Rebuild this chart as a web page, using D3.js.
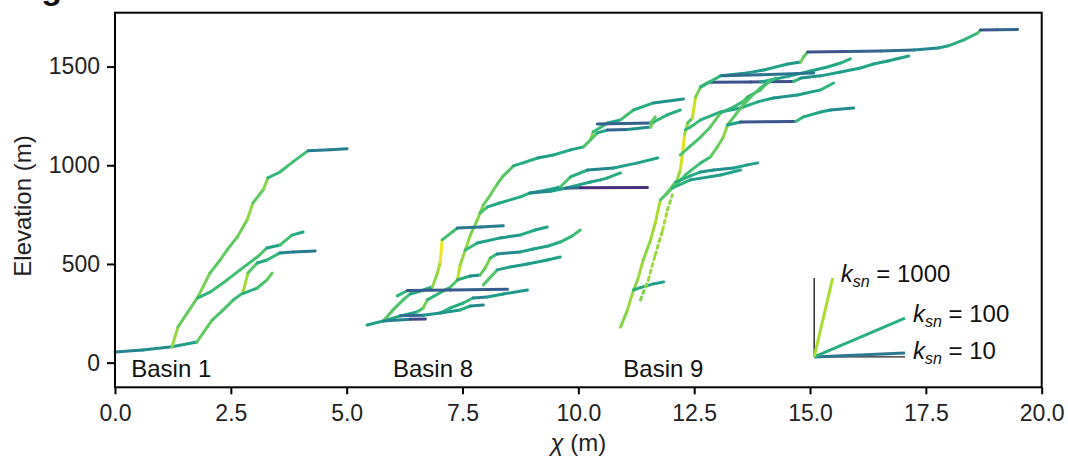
<!DOCTYPE html>
<html><head><meta charset="utf-8">
<script src="https://cdn.jsdelivr.net/npm/d3@7"></script>
<style>body{margin:0;background:#fff} text{font-family:"Liberation Sans",Arial,Helvetica,sans-serif}</style>
</head><body>
<svg id="c" width="1068" height="461"></svg>
<script>
// ---- data (chi in m, elevation in m) ----
const chiTicks = [0, 2.5, 5, 7.5, 10, 12.5, 15, 17.5, 20];
const elevTicks = [0, 500, 1000, 1500];
const basinNames = ["Basin 1", "Basin 8", "Basin 9"];
const legendKsn = [10, 100, 1000];

// Basin 1
const b1_c1 = [[0.00,54],[0.60,64],[1.23,80],[1.77,105],[1.99,180],[2.10,216],[2.33,266],[2.55,317],[2.76,353],[2.87,454],[3.07,505],[3.28,520],[3.56,556],[3.84,561],[4.32,566]];
const b1_c2 = [[1.23,80],[1.36,181],[1.56,252],[1.79,333],[2.05,454],[2.27,520],[2.42,571],[2.64,637],[2.85,723],[2.98,810],[3.20,876],[3.30,936],[3.56,966],[3.84,1017],[4.17,1074],[4.64,1079],[5.01,1084]];
const b1_c3 = [[1.79,328],[2.05,357],[2.42,419],[2.70,470],[3.07,535],[3.28,581],[3.56,596],[3.82,646],[4.06,662]];
const b1_c4 = [[2.76,350],[3.07,378],[3.28,419],[3.39,454]];

// Basin 8
const b8_c1 = [[5.44,191],[5.79,211],[6.16,237],[6.52,257],[6.65,277],[6.74,318],[7.24,383],[7.39,419],[7.45,495],[7.56,571],[7.67,647],[7.82,723],[7.95,799],[8.10,849],[8.25,905],[8.38,946],[8.60,997],[8.81,1012],[9.12,1037],[9.46,1052],[9.83,1078],[10.11,1093],[10.26,1128],[10.32,1169],[10.63,1214],[10.91,1230],[11.19,1280],[11.62,1316],[12.27,1336]];
const b8_c2 = [[10.26,1128],[10.41,1164],[10.63,1179],[11.06,1181],[11.56,1194],[11.62,1219],[11.92,1255],[12.20,1280]];
const b8_c3 = [[10.41,1209],[11.56,1214],[11.66,1245]];
const b8_c4 = [[7.88,758],[8.04,789],[8.32,810],[8.75,840],[8.96,860],[9.33,875],[9.61,890],[9.83,941],[10.20,976],[10.76,986],[11.28,1012],[11.71,1037]];
const b8_c5 = [[8.96,860],[9.40,868],[9.72,884],[10.26,915],[10.48,926],[10.63,936],[10.91,961]];
const b8_c6 = [[9.72,884],[10.04,886],[11.49,887]];
const b8_c7 = [[5.79,211],[6.00,267],[6.22,318],[6.37,348],[6.59,363],[6.85,383],[6.96,454],[7.02,510],[7.06,622],[7.39,682],[7.88,687],[8.38,693]];
const b8_c8 = [[7.56,571],[7.82,606],[8.32,632],[8.75,647],[9.07,672],[9.33,687]];
const b8_c9 = [[7.39,419],[7.67,439],[7.88,444],[7.99,480],[8.10,530],[8.25,551],[8.75,561],[9.03,576],[9.35,591],[9.61,611],[9.87,642],[10.04,672]];
const b8_c10 = [[7.95,394],[8.25,470],[8.53,485],[8.90,500],[9.33,520],[9.61,535]];
const b8_c11 = [[6.09,338],[6.31,365],[7.24,368],[8.47,372]];
const b8_c12 = [[7.02,252],[7.24,277],[7.52,302],[7.73,328],[8.04,333],[8.38,348],[8.90,368]];
const b8_c13 = [[6.16,237],[6.65,240],[7.02,252],[7.45,267],[7.67,287],[7.95,292]];
const b8_c14 = [[5.79,211],[6.37,220],[6.70,220.5]];

// Basin 9
const b9_c1 = [[10.91,180],[11.06,267],[11.19,368],[11.28,419],[11.40,520],[11.56,622],[11.66,708],[11.77,824],[11.92,860],[12.10,900],[12.20,976],[12.25,1062],[12.29,1154],[12.36,1214],[12.46,1240],[12.53,1346],[12.64,1397],[12.81,1420],[13.72,1422],[14.64,1424],[14.80,1442],[15.23,1453],[15.66,1473],[16.09,1493],[16.37,1513],[16.68,1528],[17.13,1554]];
const b9_c2 = [[12.64,1397],[13.07,1453],[13.65,1468],[14.00,1483],[14.52,1513],[14.80,1523],[14.86,1549],[14.95,1574],[15.81,1576],[16.52,1579],[17.24,1584],[17.76,1594],[17.97,1604],[18.32,1635],[18.62,1670],[18.68,1685],[19.05,1686],[19.48,1688]];
const b9_c3 = [[13.93,1422],[14.58,1453],[15.01,1478],[15.38,1498],[15.66,1518],[15.87,1539]];
const b9_c4 = [[13.13,1453],[13.93,1458],[15.08,1468]];
const b9_c5 = [[12.31,1180],[12.42,1194],[12.64,1230],[13.07,1270],[13.50,1290],[13.87,1321],[14.21,1341],[14.73,1356],[15.23,1382],[15.51,1417]];
const b9_c6 = [[12.20,1052],[12.42,1098],[12.64,1143],[12.85,1194],[13.07,1265],[13.35,1295],[13.54,1321],[13.65,1346],[13.93,1382],[14.08,1417],[14.26,1442]];
const b9_c7 = [[12.10,900],[12.31,951],[12.64,1012],[12.85,1042],[13.00,1093],[13.13,1143],[13.22,1204],[13.39,1255],[13.50,1290],[13.72,1346],[13.93,1392],[14.15,1432]];
const b9_c8 = [[11.88,850],[12.10,915],[12.42,946],[12.64,966],[12.92,976],[13.35,986],[13.65,1002],[13.87,1012]];
const b9_c9 = [[12.03,885],[12.42,926],[13.07,951],[13.50,976]];
const b9_c10 = [[13.22,1204],[13.50,1219],[14.69,1222],[14.86,1245],[15.23,1270],[15.44,1280],[15.94,1290]];
const b9_c11 = [[11.19,368],[11.34,380],[11.62,399],[11.84,409]];
const b9_c12 = [[11.34,318],[11.51,419],[11.66,546],[11.82,672],[11.92,773],[12.03,850]];

const basins = [
  [b1_c1, b1_c2, b1_c3, b1_c4],
  [b8_c1, b8_c2, b8_c3, b8_c4, b8_c5, b8_c6, b8_c7, b8_c8, b8_c9, b8_c10, b8_c11, b8_c12, b8_c13, b8_c14],
  [b9_c1, b9_c2, b9_c3, b9_c4, b9_c5, b9_c6, b9_c7, b9_c8, b9_c9, b9_c10, b9_c11, b9_c12]
];
const dashed = new Set([b9_c12]);

// ---- drawing ----
const W = 1068, H = 461, m = {l:115, t:12.7, r:26.3, b:73.7};
const svg = d3.select("#c");
const x = d3.scaleLinear().domain([0, 20]).range([m.l, W - m.r]);
const y = d3.scaleLinear().domain([-125, 1773]).range([H - m.b, m.t]);
const color = d3.scaleSequentialLog(d3.interpolateViridis).domain([0.2, 3500]).clamp(true);
const ksnOf = (a, b) => Math.max((b[1] - a[1]) / (b[0] - a[0]), 0.2);

// partial figure label clipped at top (as in the reference)
svg.append("text").attr("x", 11).attr("y", -1).attr("font-size", 34).attr("font-weight", "bold").attr("fill", "#111").text("Fig.");

const gData = svg.append("g");
basins.forEach(chs => {
  chs.forEach(ch => {
    const segs = d3.pairs(ch);
    gData.append("g").selectAll("line").data(segs).join("line")
      .attr("x1", d => x(d[0][0])).attr("y1", d => y(d[0][1]))
      .attr("x2", d => x(d[1][0])).attr("y2", d => y(d[1][1]))
      .attr("stroke", d => color(ksnOf(d[0], d[1])))
      .attr("stroke-width", 3)
      .attr("stroke-linecap", "round")
      .attr("stroke-dasharray", dashed.has(ch) ? "3,4" : null);
  });
});

// axes
const gx = svg.append("g").attr("transform", `translate(0,${H - m.b})`)
  .call(d3.axisBottom(x).tickValues(chiTicks).tickFormat(d3.format(".1f")).tickSize(7).tickPadding(10).tickSizeOuter(0));
gx.select(".domain").remove();
gx.selectAll("line").attr("stroke", "#000").attr("stroke-width", 2);
gx.selectAll("text").attr("font-size", 23).attr("fill", "#222").attr("font-family", null);

const gy = svg.append("g").attr("transform", `translate(${m.l},0)`)
  .call(d3.axisLeft(y).tickValues(elevTicks).tickFormat(d3.format("d")).tickSize(8).tickPadding(7).tickSizeOuter(0));
gy.select(".domain").remove();
gy.selectAll("line").attr("stroke", "#000").attr("stroke-width", 2);
gy.selectAll("text").attr("font-size", 23).attr("fill", "#222").attr("font-family", null);

svg.append("rect").attr("x", m.l).attr("y", m.t).attr("width", W - m.l - m.r).attr("height", H - m.t - m.b)
  .attr("fill", "none").attr("stroke", "#000").attr("stroke-width", 2);

// axis titles
svg.append("text").attr("transform", `translate(31,${(m.t + H - m.b) / 2 + 6}) rotate(-90)`)
  .attr("text-anchor", "middle").attr("font-size", 24).attr("fill", "#222").text("Elevation (m)");
const xt = svg.append("text").attr("x", (m.l + W - m.r) / 2).attr("y", 451).attr("text-anchor", "middle").attr("font-size", 24).attr("fill", "#222");
xt.append("tspan").attr("font-style", "italic").text("χ");
xt.append("tspan").text(" (m)");

// basin labels
const basinLabelChi = [0.35, 6.0, 10.97];
basinNames.forEach((n, i) => {
  svg.append("text").attr("x", x(basinLabelChi[i])).attr("y", 377).attr("font-size", 24).attr("fill", "#111").text(n);
});

// ksn legend
const chi0 = 15.09, z0 = 29;
const gl = svg.append("g");
gl.append("line").attr("x1", x(chi0)).attr("y1", y(z0)).attr("x2", x(chi0)).attr("y2", y(z0 + 400)).attr("stroke", "#222").attr("stroke-width", 1.4);
gl.append("line").attr("x1", x(chi0)).attr("y1", y(z0)).attr("x2", x(chi0 + 1.96)).attr("y2", y(z0)).attr("stroke", "#222").attr("stroke-width", 1.4);
legendKsn.forEach(k => {
  const run = Math.min(1.96, 400 / k);
  const ex = x(chi0 + run), ey = y(z0 + k * run);
  gl.append("line").attr("x1", x(chi0)).attr("y1", y(z0)).attr("x2", ex).attr("y2", ey)
    .attr("stroke", color(k)).attr("stroke-width", 3);
  const t = gl.append("text").attr("x", ex + 8).attr("y", ey + (k === 10 ? 6 : 4)).attr("font-size", 24).attr("fill", "#111");
  t.append("tspan").attr("font-style", "italic").text("k");
  t.append("tspan").attr("font-style", "italic").attr("font-size", 16).attr("dy", 5).text("sn");
  t.append("tspan").attr("dy", -5).text(" = " + k);
});
</script>
</body></html>
